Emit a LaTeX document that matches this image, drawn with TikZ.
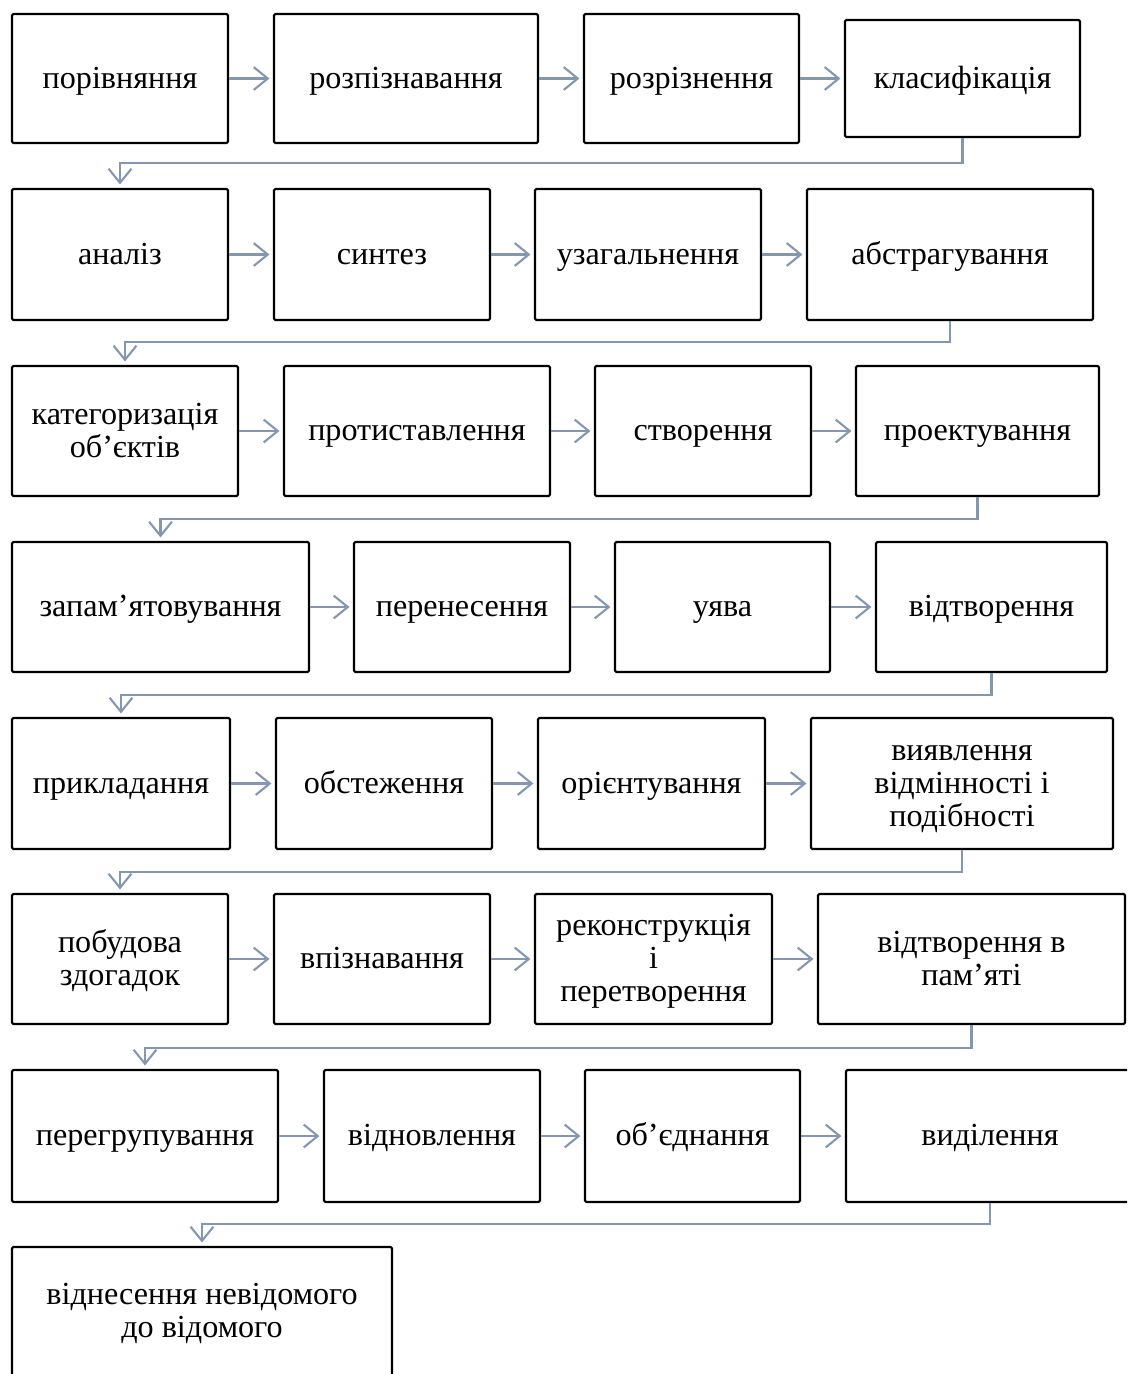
\documentclass[tikz,border=0pt]{standalone}
\usepackage{fontspec}
\setmainfont{Liberation Serif}
\usetikzlibrary{arrows.meta,calc}
\definecolor{conncol}{RGB}{132,151,176}
\tikzset{
  box/.style={draw=black, line width=1.2pt, rounded corners=0.8pt, inner sep=0pt,
    align=center, font=\fontsize{18.3}{18.8}\selectfont},
  conn/.style={draw=conncol, line width=1.2pt,
    -{Straight Barb[length=8pt,width=13pt,line width=1.2pt]}, shorten >=2pt},
}
% #1 name, #2 x1, #3 y1, #4 x2, #5 y2 (pixels), #6 text
\newcommand\mybox[6]{%
  \node[box, minimum width={(#4-#2)*0.02cm}, minimum height={(#5-#3)*0.02cm}]
    (#1) at ({(#2+#4)/2},{(#3+#5)/2}) {\rule{0pt}{16.6pt}#6\strut};}
\begin{document}
\begin{tikzpicture}[x=0.02cm,y=-0.02cm]
\clip (0,0) rectangle (1127,1374);
% row 1
\mybox{a1}{12}{14}{228}{143}{порівняння}
\mybox{a2}{274}{14}{538}{143}{розпізнавання}
\mybox{a3}{584}{14}{799}{143}{розрізнення}
\mybox{a4}{845}{20}{1080}{137}{класифікація}
% row 2
\mybox{b1}{12}{189}{228}{320}{аналіз}
\mybox{b2}{274}{189}{490}{320}{синтез}
\mybox{b3}{535}{189}{761}{320}{узагальнення}
\mybox{b4}{807}{189}{1093}{320}{абстрагування}
% row 3
\mybox{c1}{12}{366}{238}{496}{категоризація\\об’єктів}
\mybox{c2}{284}{366}{550}{496}{протиставлення}
\mybox{c3}{595}{366}{811}{496}{створення}
\mybox{c4}{856}{366}{1099}{496}{проектування}
% row 4
\mybox{d1}{12}{542}{309}{672}{запам’ятовування}
\mybox{d2}{354}{542}{570}{672}{перенесення}
\mybox{d3}{615}{542}{830}{672}{уява}
\mybox{d4}{876}{542}{1107}{672}{відтворення}
% row 5
\mybox{e1}{12}{718}{230}{849}{прикладання}
\mybox{e2}{276}{718}{492}{849}{обстеження}
\mybox{e3}{538}{718}{765}{849}{орієнтування}
\mybox{e4}{811}{718}{1113}{849}{виявлення\\відмінності і\\подібності}
% row 6
\mybox{f1}{12}{894}{228}{1024}{побудова\\здогадок}
\mybox{f2}{274}{894}{490}{1024}{впізнавання}
\mybox{f3}{535}{894}{772}{1024}{реконструкція\\і\\перетворення}
\mybox{f4}{818}{894}{1125}{1024}{відтворення в\\пам’яті}
% row 7
\mybox{g1}{12}{1070}{278}{1202}{перегрупування}
\mybox{g2}{324}{1070}{540}{1202}{відновлення}
\mybox{g3}{585}{1070}{800}{1202}{об’єднання}
\mybox{g4}{846}{1070}{1134}{1202}{виділення}
% row 8
\mybox{h1}{12}{1247}{392}{1376}{віднесення невідомого\\до відомого}

% horizontal arrows
\foreach \r in {a,b,c,d,e,f,g}{
  \draw[conn] (\r1.east) -- (\r1.east -| \r2.west);
  \draw[conn] (\r2.east) -- (\r2.east -| \r3.west);
  \draw[conn] (\r3.east) -- (\r3.east -| \r4.west);
}
% row-to-row elbow connectors
\coordinate (m1) at (0,163);
\coordinate (m2) at (0,342);
\coordinate (m3) at (0,519);
\coordinate (m4) at (0,695);
\coordinate (m5) at (0,872);
\coordinate (m6) at (0,1048);
\coordinate (m7) at (0,1224);
\draw[conn] (a4.south) -- (a4.south |- m1) -| (b1.north);
\draw[conn] (b4.south) -- (b4.south |- m2) -| (c1.north);
\draw[conn] (c4.south) -- (c4.south |- m3) -| (d1.north);
\draw[conn] (d4.south) -- (d4.south |- m4) -| (e1.north);
\draw[conn] (e4.south) -- (e4.south |- m5) -| (f1.north);
\draw[conn] (f4.south) -- (f4.south |- m6) -| (g1.north);
\draw[conn] (g4.south) -- (g4.south |- m7) -| (h1.north);
\end{tikzpicture}
\end{document}
